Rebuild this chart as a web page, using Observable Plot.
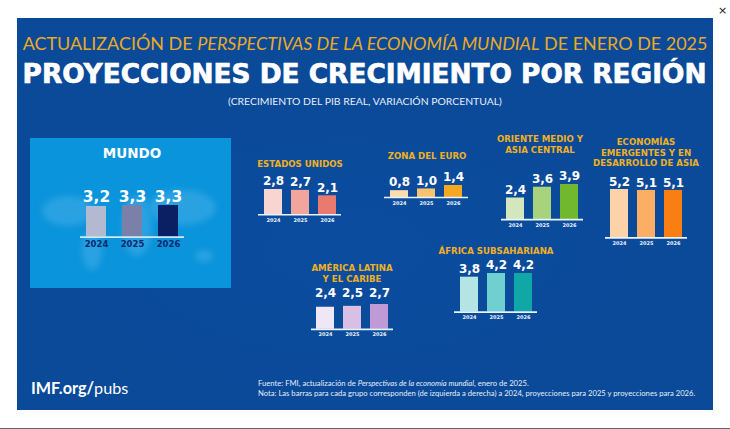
<!DOCTYPE html>
<html lang="es"><head><meta charset="utf-8">
<script src="https://cdn.jsdelivr.net/npm/d3@7"></script>
<script src="https://cdn.jsdelivr.net/npm/@observablehq/plot@0.6"></script>
<style>
html,body{margin:0;padding:0;background:#fff;width:730px;height:429px;overflow:hidden}
#stage{position:relative;width:730px;height:429px;font-family:Lato,sans-serif}
#bg{position:absolute;left:17px;top:18px;width:696px;height:392px;
 background:radial-gradient(ellipse 300px 150px at 330px 230px,#0c4c9f 0%,rgba(12,76,159,0) 100%),#0a4a99}
#box{position:absolute;left:30px;top:138px;width:201px;height:150px;background:#0a94db}
#box i{position:absolute;background:#2aa2e2;border-radius:50%;filter:blur(3px)}
.t{position:absolute;white-space:nowrap;line-height:1}
.c{transform:translateX(-50%);text-align:center}
.rt{font-family:"DejaVu Sans",sans-serif;font-weight:700;color:#efb01f;font-size:8.6px;line-height:10.7px}
.p{position:absolute}
.p svg{overflow:visible;background:transparent;display:block}
#x{position:absolute;left:718px;top:4px;font:11px "DejaVu Sans",sans-serif;color:#222}
#base{position:absolute;left:0;top:427.5px;width:730px;height:1.5px;background:#666}
</style></head><body>
<div id="stage">
<div id="bg"></div>
<div id="box"><i style="left:12px;top:58px;width:52px;height:30px"></i><i style="left:52px;top:92px;width:20px;height:40px"></i><i style="left:92px;top:58px;width:30px;height:60px"></i><i style="left:118px;top:52px;width:68px;height:35px"></i><i style="left:165px;top:112px;width:18px;height:12px"></i></div>
<div id="x">×</div>
<div class="t c" id="h1" style="left:365px;top:34.5px;font-size:17.95px;color:#eaa925;font-weight:400">ACTUALIZACIÓN DE <em>PERSPECTIVAS DE LA ECONOMÍA MUNDIAL</em> DE ENERO DE 2025</div>
<div class="t c" id="h2" style="left:364.5px;top:61px;font-family:'DejaVu Sans',sans-serif;font-weight:700;font-size:26.35px;color:#fff;-webkit-text-stroke:.7px #fff">PROYECCIONES DE CRECIMIENTO POR REGIÓN</div>
<div class="t c" style="left:365px;top:96px;font-size:10.4px;color:#e6eefa">(CRECIMIENTO DEL PIB REAL, VARIACIÓN PORCENTUAL)</div>
<div class="t" style="left:31px;top:380px;font-size:16.2px;color:#fff"><b>IMF.org/</b>pubs</div>
<div class="t" style="left:258px;top:380px;font-size:7.65px;color:#e6eefa">Fuente: FMI, actualización de <em>Perspectivas de la economía mundial</em>, enero de 2025.</div>
<div class="t" style="left:258px;top:390px;font-size:7.65px;color:#e6eefa">Nota: Las barras para cada grupo corresponden (de izquierda a derecha) a 2024, proyecciones para 2025 y proyecciones para 2026.</div>
<div id="base"></div>
</div>
<script>
const years = ["2024", "2025", "2026"];
const mundoValues = [3.2, 3.3, 3.3];
const usaValues = [2.8, 2.7, 2.1];
const euroValues = [0.8, 1.0, 1.4];
const orienteValues = [2.4, 3.6, 3.9];
const asiaValues = [5.2, 5.1, 5.1];
const africaValues = [3.8, 4.2, 4.2];
const latamValues = [2.4, 2.5, 2.7];

const panels = [
  {title:"MUNDO", values:mundoValues, colors:["#b3b9d0","#7a80a8","#0b1f63"], left:80, base:237, w:104, ppu:9.6, big:true, flat:true, dy:-8, cx:132, ty:146},
  {title:"ESTADOS UNIDOS", values:usaValues, colors:["#f9d5d2","#f2a59d","#e97a6f"], left:258, base:214, w:83, ppu:9, dy:-8, cx:300, ty:159},
  {title:"ZONA DEL EURO", values:euroValues, colors:["#fbdcae","#fbc26f","#f7a823"], left:384, base:197, w:84, ppu:8.6, dy:-8, cx:427, ty:151},
  {title:"ORIENTE MEDIO Y<br>ASIA CENTRAL", values:orienteValues, colors:["#d3e6bc","#a8d27c","#72b82f"], left:501, base:219, w:82, ppu:9, dy:-8, cx:540, ty:134},
  {title:"ECONOMÍAS<br>EMERGENTES Y EN<br>DESARROLLO DE ASIA", values:asiaValues, colors:["#fcd3a8","#fdae65","#f97f12"], left:605, base:237, w:82, ppu:9.3, dy:-7.5, cx:646, ty:137},
  {title:"ÁFRICA SUBSAHARIANA", values:africaValues, colors:["#b4e5e4","#6fd0cf","#0fa8a6"], left:454, base:312, w:83, ppu:9.2, dy:-8, cx:496, ty:246},
  {title:"AMÉRICA LATINA<br>Y EL CARIBE", values:latamValues, colors:["#efe7f6","#d9bfe3","#c09ad6"], left:311, base:329, w:82, ppu:9.2, flat:true, dy:-11, cx:352, ty:263}
];

const stage = document.getElementById("stage");
for (const p of panels) {
  const data = years.map((year, i) => ({year, value:p.values[i]}));
  const maxV = d3.max(p.values);
  const top = p.big ? 24 : 22, bottom = p.big ? 13 : 10;
  const height = top + maxV * p.ppu + bottom;
  const fmt = v => v.toFixed(1).replace(".", ",");
  const chart = Plot.plot({
    width:p.w, height, marginTop:top, marginBottom:bottom, marginLeft:0, marginRight:0,
    style:{background:"transparent", fontFamily:"'DejaVu Sans',sans-serif", overflow:"visible"},
    x:{domain:years, paddingInner:p.big ? 0.45 : 0.35, paddingOuter:p.big ? 0.14 : 0.18, axis:null},
    y:{domain:[0,maxV], axis:null},
    marks:[
      Plot.barY(data, {x:"year", y:"value", fill:d=>p.colors[years.indexOf(d.year)]}),
      Plot.ruleY([0], {stroke:p.big ? "#cfe9f8" : "#e8f3fb", strokeWidth:1.6}),
      Plot.text(data, {x:"year", y:p.flat ? (()=>maxV) : "value", text:d=>fmt(d.value), dy:p.dy,
        fill:"#fff", fontWeight:700, fontSize:p.big ? 15.5 : 12}),
      Plot.text(data, {x:"year", y:()=>0, text:"year", dy:p.big ? 7 : 5.5, fill:p.big ? "#0b2a6e" : "#e8f3fb",
        fontWeight:700, fontSize:p.big ? 8.5 : 5})
    ]
  });
  const wrap = document.createElement("div");
  wrap.className = "p";
  wrap.style.left = p.left + "px";
  wrap.style.top = (p.base - (height - bottom)) + "px";
  wrap.appendChild(chart);
  stage.appendChild(wrap);
  const t = document.createElement("div");
  t.className = "t c rt";
  t.innerHTML = p.title;
  t.style.left = p.cx + "px";
  t.style.top = p.ty + "px";
  if (p.big) { t.style.color = "#fff"; t.style.fontSize = "13.5px"; t.style.lineHeight = "14px"; }
  stage.appendChild(t);
}
</script>
</body></html>
